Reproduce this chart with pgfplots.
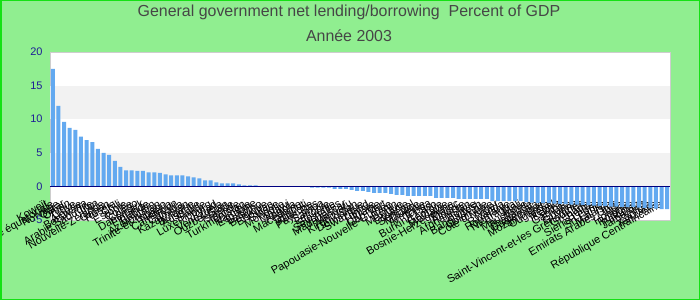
\documentclass[border=0pt]{standalone}
\usepackage{pgfplots}
\pgfplotsset{compat=1.18}
\usepackage{fontspec}
\setmainfont{Liberation Sans}
\definecolor{bg}{RGB}{144,238,144}
\definecolor{bord}{RGB}{20,225,20}
\definecolor{barc}{RGB}{99,169,240}
\definecolor{band}{RGB}{242,242,242}
\definecolor{ticklab}{RGB}{30,30,150}
\definecolor{zeroline}{RGB}{0,0,128}
\definecolor{titlec}{RGB}{70,70,70}
\definecolor{framec}{RGB}{205,205,205}
\begin{document}
\begin{tikzpicture}
\useasboundingbox (0,0) rectangle (700bp,300bp);
\clip (0,0) rectangle (700bp,300bp);
\fill[bg] (0,0) rectangle (700bp,300bp);
\node[titlec, font=\fontsize{16}{18}\selectfont] at (349bp,288bp) {General government net lending/borrowing\ \ Percent of GDP};
\node[titlec, font=\fontsize{16}{18}\selectfont] at (349bp,264bp) {Année 2003};
\begin{axis}[
  at={(50bp,80bp)}, anchor=south west,
  scale only axis, width=620bp, height=168bp,
  xmin=0.5, xmax=110.5, ymin=-5, ymax=20,
  ytick={-5,0,5,10,15,20},
  xtick={1,...,110},
  major tick length=0pt,
  axis line style={framec},
  axis background/.style={fill=white},
  yticklabel style={font=\fontsize{11}{13}\selectfont, text=ticklab, xshift=-4bp},
  /pgf/number format/assume math mode=true,
  xticklabel style={font=\fontsize{11}{13}\selectfont, text=black, xshift=-8bp, yshift=21bp, rotate=30, anchor=north east, inner sep=0pt},
  xticklabels={Koweït,Guinée équatoriale,Norvège,Qatar,Oman,Libye,Algérie,Botswana,Arabie Saoudite,Iran,Nouvelle-Zélande,Gabon,Russie,Chili,Estonie,Corée,Congo,Danemark,Finlande,Bahreïn,Azerbaïdjan,Trinité-et-Tobago,Nigeria,Cameroun,Canada,Kazakhstan,Bulgarie,Australie,Suède,Luxembourg,Tchad,Venezuela,Ouzbékistan,Islande,Irlande,Turkménistan,Namibie,Espagne,Lesotho,Belgique,Bhoutan,Suisse,Mongolie,Malawi,Angola,Macédoine,Djibouti,Autriche,Pays-Bas,Samoa,Lettonie,Slovénie,Seychelles,Madagascar,Vanuatu,Kirghizistan,Dominique,Swaziland,Tunisie,Ukraine,Cap-Vert,Papouasie-Nouvelle-Guinée,Bénin,Mexique,Lituanie,Sénégal,Maurice,Arménie,Tonga,Burkina Faso,Géorgie,Moldavie,Bosnie-Herzégovine,Maroc,Albanie,Afghanistan,Bolivie,Bangladesh,Colombie,Côte d'Ivoire,Niger,Rwanda,Roumanie,Nicaragua,Mali,Mauritanie,Thaïlande,Guatemala,Mozambique,Ouganda,Népal,Kenya,Gambie,Ghana,Guyana,Saint-Vincent-et-les Grenadines,Grenade,Belize,Sierra Leone,Sri Lanka,Malaisie,Emirats Arabes Unis,Inde,Hongrie,Pologne,Pakistan,Jamaïque,Zambie,Tanzanie,République Centrafricaine},
]
\fill[band] (axis cs:0.5,0) rectangle (axis cs:110.5,5);
\fill[band] (axis cs:0.5,10) rectangle (axis cs:110.5,15);
\addplot[ybar, fill=barc, draw=none, bar width=4bp] coordinates {
(1,17.5) (2,12.0) (3,9.6) (4,8.7) (5,8.4) (6,7.4) (7,6.9) (8,6.6) (9,5.6) (10,5.0)
(11,4.7) (12,3.8) (13,2.9) (14,2.4) (15,2.4) (16,2.3) (17,2.3) (18,2.1) (19,2.1) (20,2.0)
(21,1.8) (22,1.65) (23,1.65) (24,1.65) (25,1.5) (26,1.35) (27,1.2) (28,0.9) (29,0.9) (30,0.6)
(31,0.45) (32,0.45) (33,0.45) (34,0.3) (35,0.15) (36,0.15) (37,0.15) (38,0) (39,0) (40,0)
(41,0) (42,0) (43,0) (44,0) (45,0) (46,0) (47,-0.2) (48,-0.2) (49,-0.2) (50,-0.2)
(51,-0.35) (52,-0.35) (53,-0.35) (54,-0.5) (55,-0.65) (56,-0.65) (57,-0.8) (58,-0.95) (59,-0.95) (60,-0.95)
(61,-1.1) (62,-1.25) (63,-1.25) (64,-1.4) (65,-1.4) (66,-1.4) (67,-1.4) (68,-1.4) (69,-1.7) (70,-1.7)
(71,-1.7) (72,-1.7) (73,-1.85) (74,-1.85) (75,-1.85) (76,-1.85) (77,-1.85) (78,-1.85) (79,-2.2) (80,-2.2)
(81,-2.2) (82,-2.2) (83,-2.2) (84,-2.2) (85,-2.35) (86,-2.4) (87,-2.45) (88,-2.5) (89,-2.5) (90,-2.55)
(91,-2.6) (92,-2.65) (93,-2.7) (94,-2.7) (95,-2.75) (96,-2.8) (97,-2.85) (98,-2.9) (99,-2.95) (100,-3.0)
(101,-3.0) (102,-3.05) (103,-3.1) (104,-3.1) (105,-3.15) (106,-3.2) (107,-3.25) (108,-3.3) (109,-3.4) (110,-3.4)
};
\draw[zeroline, line width=1.5bp] (axis cs:0.5,0) -- (axis cs:110.5,0);
\end{axis}
\draw[bord, line width=1.5bp] (0.75bp,0.75bp) rectangle (699.25bp,299.25bp);
\end{tikzpicture}
\end{document}
